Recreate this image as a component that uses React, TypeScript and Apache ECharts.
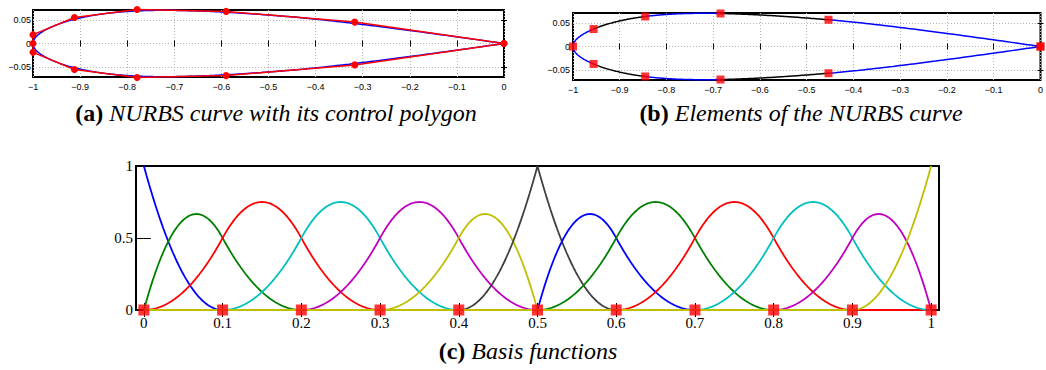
import { useEffect, useRef } from 'react';
import * as echarts from 'echarts';

// Quadratic NURBS curve: control polygon, weights and knot vector
const ctrlX = [0, -0.317, -0.59, -0.779, -0.912, -1, -1, -1, -0.912, -0.779, -0.59, -0.317, 0];
const ctrlY = [0, 0.046, 0.069, 0.073, 0.056, 0.019, 0, -0.019, -0.056, -0.073, -0.069, -0.046, 0];
const weights = [1, 1, 1, 1, 1, 1, 1, 1, 1, 1, 1, 1, 1];
const knots = [0, 0, 0, 0.1, 0.2, 0.3, 0.4, 0.5, 0.5, 0.6, 0.7, 0.8, 0.9, 1, 1, 1];
const degree = 2;

// Colours
const basisColors = ['#0000ff', '#008000', '#ff0000', '#00bfbf', '#bf00bf', '#bfbf00', '#404040'];
// Element colours of each half of the curve (upper half, then lower half)
const elementColors = ['#0000ff', '#000000', '#0000ff', '#000000', '#0000ff', '#0000ff', '#000000', '#0000ff', '#000000', '#0000ff'];

// Axis ticks
const curveXTicks = [-1, -0.9, -0.8, -0.7, -0.6, -0.5, -0.4, -0.3, -0.2, -0.1, 0];
const curveYTicks = [-0.05, 0, 0.05];
const paramTicks = [0, 0.1, 0.2, 0.3, 0.4, 0.5, 0.6, 0.7, 0.8, 0.9, 1];
const basisYTicks = [0, 0.5, 1];

// Captions
const captionTags = ['(a)', '(b)', '(c)'];
const captionTexts = ['NURBS curve with its control polygon', 'Elements of the NURBS curve', 'Basis functions'];

const SERIF = '"Liberation Serif", "Times New Roman", serif';
const SANS = '"Liberation Sans", Arial, sans-serif';

// Cox-de Boor recursion
function basisFn(i: number, p: number, u: number, U: number[]): number {
  if (p === 0) {
    if (u >= U[i] && u < U[i + 1]) return 1;
    const last = U[U.length - 1];
    if (u === last && U[i + 1] === last && U[i] < last) return 1;
    return 0;
  }
  let a = 0;
  let b = 0;
  const d1 = U[i + p] - U[i];
  if (d1 > 0) a = ((u - U[i]) / d1) * basisFn(i, p - 1, u, U);
  const d2 = U[i + p + 1] - U[i + 1];
  if (d2 > 0) b = ((U[i + p + 1] - u) / d2) * basisFn(i + 1, p - 1, u, U);
  return a + b;
}

function curvePoint(u: number): [number, number] {
  let sx = 0;
  let sy = 0;
  let sw = 0;
  for (let i = 0; i < ctrlX.length; i++) {
    const n = basisFn(i, degree, u, knots) * weights[i];
    sx += n * ctrlX[i];
    sy += n * ctrlY[i];
    sw += n;
  }
  return [sx / sw, sy / sw];
}

function samples(a: number, b: number, n: number): number[] {
  const out: number[] = [];
  for (let k = 0; k <= n; k++) out.push(a + ((b - a) * k) / n);
  return out;
}

const fmt = (v: number) => {
  const r = Math.round(v * 100) / 100;
  return r < 0 ? '\u2212' + String(-r) : String(r);
};

function boxAxes(
  grid: number,
  dir: 'x' | 'y',
  min: number,
  max: number,
  ticks: number[],
  o: { font: string; size: number; margin: number; tick: number; split: boolean }
) {
  const main: any = {
    type: 'value',
    gridIndex: grid,
    position: dir === 'x' ? 'bottom' : 'left',
    min,
    max,
    axisLine: { show: false },
    axisTick: { show: true, inside: true, length: o.tick, customValues: ticks, lineStyle: { color: '#000', width: 1 } },
    axisLabel: {
      show: true,
      customValues: ticks,
      formatter: fmt,
      fontFamily: o.font,
      fontSize: o.size,
      color: '#000',
      margin: o.margin,
    },
    splitLine: { show: o.split, lineStyle: { color: '#b4b4b4', width: 1, type: [1, 2] } },
  };
  const mirror: any = {
    type: 'value',
    gridIndex: grid,
    position: dir === 'x' ? 'top' : 'right',
    min,
    max,
    axisLine: { show: false },
    axisTick: { show: true, inside: true, length: o.tick, customValues: ticks, lineStyle: { color: '#000', width: 1 } },
    axisLabel: { show: false },
    splitLine: { show: false },
  };
  return [main, mirror];
}

export default function App() {
  const ref = useRef<HTMLDivElement>(null);

  useEffect(() => {
    if (!ref.current) return;
    const chart = echarts.init(ref.current, undefined, { renderer: 'svg' });

    const fine = samples(0, 1, 600);
    const curveData = fine.map((u) => curvePoint(u));
    const polygonData = ctrlX.map((x, i) => [x, ctrlY[i]]);

    const uniqueKnots = knots.filter((k, i) => i === 0 || k !== knots[i - 1]);
    const elementSeries = uniqueKnots.slice(0, -1).map((k, e) => ({
      type: 'line',
      xAxisIndex: 2,
      yAxisIndex: 2,
      data: samples(k, uniqueKnots[e + 1], 60).map((u) => curvePoint(u)),
      showSymbol: false,
      symbol: 'none',
      clip: false,
      lineStyle: { color: elementColors[e], width: 1.5 },
      z: 3,
    }));
    const knotPoints = uniqueKnots.map((u) => curvePoint(u));

    const basisSeries = ctrlX.map((_, i) => ({
      type: 'line',
      xAxisIndex: 4,
      yAxisIndex: 4,
      data: fine.map((u) => [u, basisFn(i, degree, u, knots)]),
      showSymbol: false,
      symbol: 'none',
      clip: false,
      lineStyle: { color: basisColors[i % basisColors.length], width: 1.8 },
      z: 3,
    }));

    const axisA = { font: SANS, size: 9, margin: 5, tick: 3, split: true };
    const axisB = { font: SANS, size: 9, margin: 5, tick: 3, split: true };
    const axisC = { font: SERIF, size: 15, margin: 5, tick: 7, split: false };

    const [axX, axXt] = boxAxes(0, 'x', -1, 0, curveXTicks, axisA);
    const [axY, axYr] = boxAxes(0, 'y', -0.072, 0.072, curveYTicks, { ...axisA, margin: 2 });
    const [bxX, bxXt] = boxAxes(1, 'x', -1, 0, curveXTicks, axisB);
    const [bxY, bxYr] = boxAxes(1, 'y', -0.072, 0.072, curveYTicks, { ...axisB, margin: 3 });
    const [cxX, cxXt] = boxAxes(2, 'x', -0.01, 1.01, paramTicks, axisC);
    const [cxY, cxYr] = boxAxes(2, 'y', 0, 1, basisYTicks, { ...axisC, margin: 3 });

    const gridStyle = { show: true, borderColor: '#000', borderWidth: 2, backgroundColor: 'transparent' };
    const captionCenters = [
      [276, 113],
      [801, 113],
      [528, 351],
    ];

    chart.setOption({
      animation: false,
      backgroundColor: '#ffffff',
      grid: [
        { left: 33, top: 10, width: 471, height: 67, ...gridStyle },
        { left: 573, top: 13, width: 468, height: 67, ...gridStyle },
        { left: 136, top: 166, width: 803, height: 144, ...gridStyle },
      ],
      xAxis: [axX, axXt, bxX, bxXt, cxX, cxXt],
      yAxis: [axY, axYr, bxY, bxYr, cxY, cxYr],
      series: [
        {
          type: 'line',
          xAxisIndex: 0,
          yAxisIndex: 0,
          data: curveData,
          showSymbol: false,
          symbol: 'none',
          clip: false,
          lineStyle: { color: '#0000ff', width: 1.5 },
          z: 3,
        },
        {
          type: 'line',
          xAxisIndex: 0,
          yAxisIndex: 0,
          data: polygonData,
          symbol: 'circle',
          symbolSize: 7,
          showSymbol: true,
          clip: false,
          lineStyle: { color: '#ff0000', width: 1.5 },
          itemStyle: { color: '#ff0000' },
          z: 4,
        },
        ...elementSeries,
        {
          type: 'scatter',
          xAxisIndex: 2,
          yAxisIndex: 2,
          data: knotPoints,
          symbol: 'rect',
          symbolSize: 8,
          clip: false,
          itemStyle: { color: '#ff0000' },
          z: 5,
        },
        ...basisSeries,
        {
          type: 'scatter',
          xAxisIndex: 4,
          yAxisIndex: 4,
          data: paramTicks.map((u) => [u, 0]),
          symbol: 'rect',
          symbolSize: 11,
          clip: false,
          itemStyle: { color: '#ff0000' },
          z: 5,
        },
      ],
      graphic: captionTags.map((tag, i) => ({
        type: 'text',
        x: captionCenters[i][0],
        y: captionCenters[i][1],
        silent: true,
        style: {
          text: `{b|${tag}} {i|${captionTexts[i]}}`,
          align: 'center',
          verticalAlign: 'middle',
          fontFamily: SERIF,
          fontSize: 24,
          fill: '#000',
          rich: {
            b: { fontFamily: SERIF, fontSize: 24, fontWeight: 'bold', fill: '#000' },
            i: { fontFamily: SERIF, fontSize: 24, fontStyle: 'italic', fill: '#000' },
          },
        },
      })),
    });

    return () => chart.dispose();
  }, []);

  return <div ref={ref} style={{ position: 'absolute', left: 0, top: 0, width: 1046, height: 370 }} />;
}
